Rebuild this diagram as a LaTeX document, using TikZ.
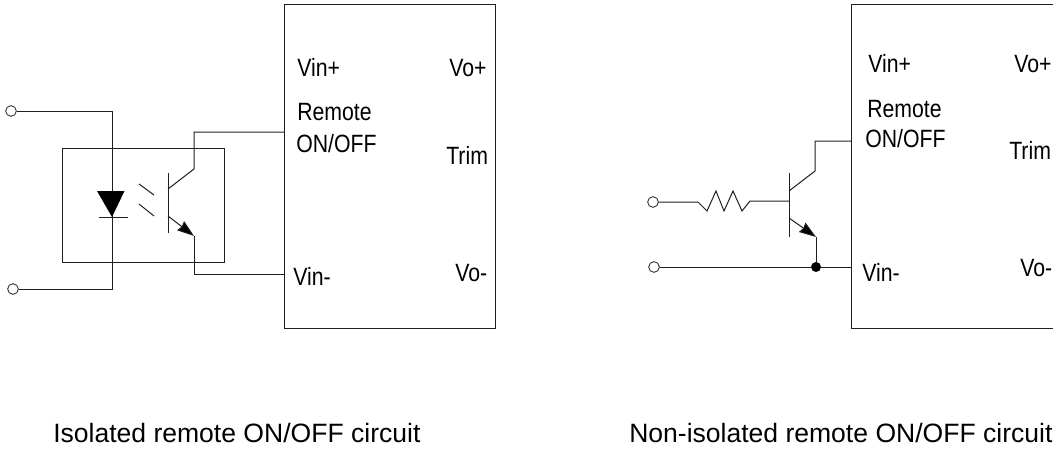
\documentclass[tikz,border=0pt]{standalone}
\usepackage{fontspec}
\setmainfont{Liberation Sans}
\newfontfamily\pinfont[FakeStretch=0.85]{Liberation Sans}
\usetikzlibrary{arrows.meta}
\definecolor{wirecolor}{RGB}{30, 30, 30}

\begin{document}
\begin{tikzpicture}[
    x=0.75pt, y=-0.75pt,
    wire/.style={draw=wirecolor, line width=0.75pt},
    emitter/.style={wire, -{Stealth[length=12.6pt, width=8.5pt, inset=1pt, fill=black]}},
    terminal/.style={circle, draw=wirecolor, fill=white, line width=0.6pt, inner sep=0pt, minimum width=6.5pt, minimum height=8pt},
    dot/.style={circle, fill=black, inner sep=0pt, minimum size=7.5pt},
    pin/.style={font=\pinfont\fontsize{18.75}{20}\selectfont, anchor=base west, inner sep=0pt},
    caption/.style={font=\fontsize{19.9}{22}\selectfont, anchor=base west, inner sep=0pt}
]
\useasboundingbox (0, 0) rectangle (1053, 450);

% Left module
\coordinate (ltop) at (284, 4);
\coordinate (lbot) at (495, 328);
\draw[wire] (ltop) rectangle (lbot);
\node[pin] (lvinp) at (297, 76) {Vin+};
\node[pin] (lvop) at (449, 76) {Vo+};
\node[pin] (lremote) at (297, 120) {Remote};
\node[pin] (lonoff) at (296, 152) {ON/OFF};
\node[pin] (ltrim) at (446, 164) {Trim};
\node[pin] (lvinm) at (293, 285) {Vin-};
\node[pin] (lvom) at (455, 281) {Vo-};

% Optocoupler
\coordinate (optoa) at (62, 148);
\coordinate (optob) at (224, 262);
\draw[wire] (optoa) rectangle (optob);

% Diode side
\node[terminal] (lt1) at (11, 111) {};
\node[terminal] (lt2) at (13, 289) {};
\coordinate (c1) at (112, 111);
\coordinate (c2) at (112, 289);
\coordinate (da) at (97, 191);
\coordinate (db) at (124.5, 191);
\coordinate (dc) at (112, 217);
\coordinate (dl) at (99, 217);
\coordinate (dr) at (128, 217);
\draw[wire] (lt1) -- (c1) -- (c2) -- (lt2);
\fill[black] (da) -- (db) -- (dc) -- cycle;
\draw[wire] (dl) -- (dr);

% Light
\coordinate (r1a) at (139, 184);
\coordinate (r1b) at (154, 195);
\coordinate (r2a) at (139, 204);
\coordinate (r2b) at (154, 216);
\draw[wire] (r1a) -- (r1b);
\draw[wire] (r2a) -- (r2b);

% Phototransistor
\coordinate (lb1) at (168, 173);
\coordinate (lb2) at (168, 233);
\coordinate (lc1) at (168, 189);
\coordinate (lc2) at (194, 169);
\coordinate (lc3) at (194, 132);
\coordinate (lc4) at (284, 132);
\coordinate (le1) at (168, 216);
\coordinate (le2) at (194, 236);
\coordinate (le3) at (194, 274);
\coordinate (le4) at (284, 274);
\draw[wire] (lb1) -- (lb2);
\draw[wire] (lc1) -- (lc2) -- (lc3) -- (lc4);
\draw[emitter] (le1) -- (le2);
\draw[wire] (le2) -- (le3) -- (le4);

% Right module
\coordinate (rtopr) at (1053, 4);
\coordinate (rtop) at (851, 4);
\coordinate (rbot) at (851, 328);
\coordinate (rbotr) at (1053, 328);
\draw[wire] (rtopr) -- (rtop) -- (rbot) -- (rbotr);
\node[pin] (rvinp) at (868, 72) {Vin+};
\node[pin] (rvop) at (1014, 72) {Vo+};
\node[pin] (rremote) at (867, 117) {Remote};
\node[pin] (ronoff) at (865, 147) {ON/OFF};
\node[pin] (rtrim) at (1009, 159) {Trim};
\node[pin] (rvinm) at (862, 281) {Vin-};
\node[pin] (rvom) at (1020, 276) {Vo-};

% Input and resistor
\node[terminal] (rt1) at (653, 202) {};
\node[terminal] (rt2) at (654, 267) {};
\coordinate (rbase) at (789, 201);
\draw[wire] (rt1) -- (698, 202) -- (707, 211) -- (716, 191) -- (724, 211) -- (733, 191) -- (742, 211) -- (750, 201) -- (rbase);

% Transistor
\coordinate (rb1) at (789, 173);
\coordinate (rb2) at (789, 237);
\coordinate (rc1) at (789, 191);
\coordinate (rc2) at (815, 171);
\coordinate (rc3) at (815, 141);
\coordinate (rc4) at (851, 141);
\coordinate (re1) at (789, 218);
\coordinate (re2) at (816, 237);
\coordinate (rin) at (851, 267);
\node[dot] (rjoin) at (816, 267) {};
\draw[wire] (rb1) -- (rb2);
\draw[wire] (rc1) -- (rc2) -- (rc3) -- (rc4);
\draw[emitter] (re1) -- (re2);
\draw[wire] (re2) -- (rjoin);
\draw[wire] (rt2) -- (rjoin) -- (rin);

% Captions
\node[caption] (lcap) at (53, 442) {Isolated remote ON/OFF circuit};
\node[caption] (rcap) at (629, 442) {Non-isolated remote ON/OFF circuit};

\end{tikzpicture}
\end{document}
